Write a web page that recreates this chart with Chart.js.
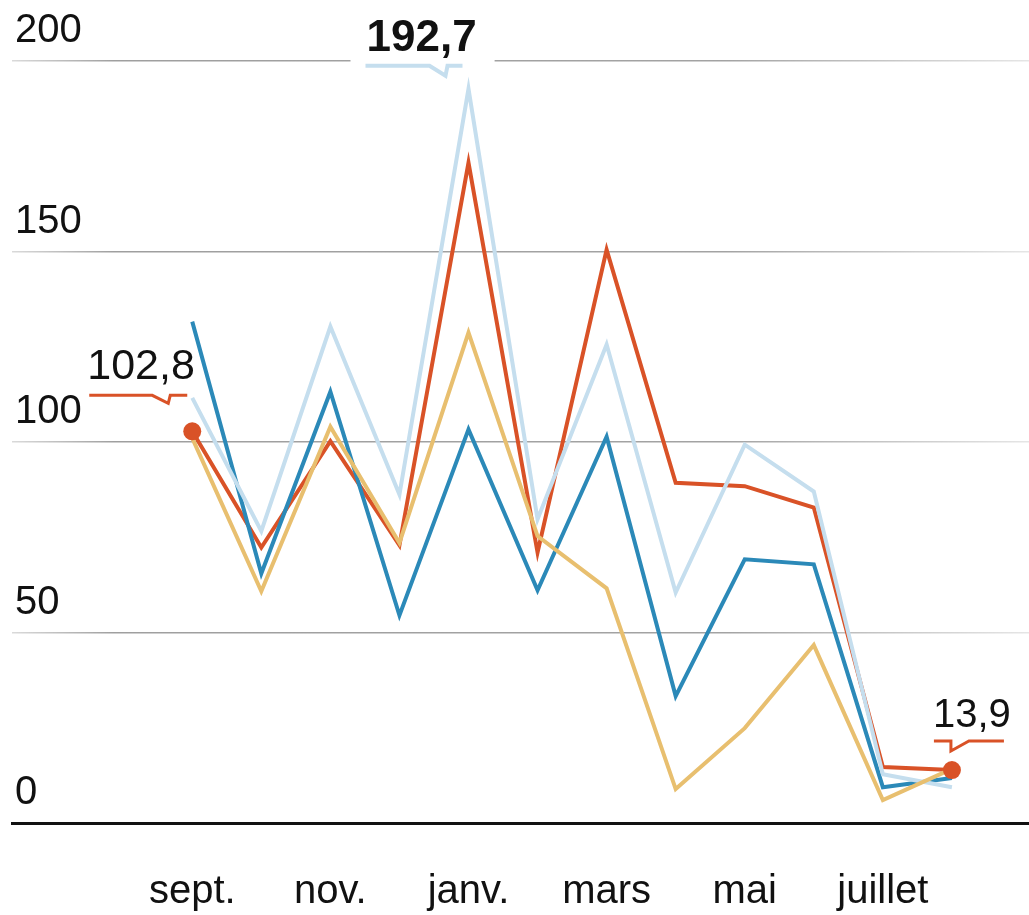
<!DOCTYPE html>
<html>
<head>
<meta charset="utf-8">
<script src="https://cdn.jsdelivr.net/npm/chart.js@4"></script>
<style>
  html, body { margin: 0; padding: 0; background: #fff; overflow: hidden; width: 1029px; height: 915px; }
  #c { display: block; margin-left: -3px; }
</style>
</head>
<body>
<canvas id="c" width="1043" height="915" style="width:1043px;height:915px"></canvas>
<script>
// ---- Data ----
const months = ['sept.', 'oct.', 'nov.', 'déc.', 'janv.', 'févr.', 'mars', 'avr.', 'mai', 'juin', 'juillet', 'août'];
const shownMonthIdx = [0, 2, 4, 6, 8, 10];
const yTicks = [0, 50, 100, 150, 200];

const seriesOrange    = [102.8, 72.3, 100.2, 72.9, 173.3, 71.0, 150.5, 89.3, 88.4, 82.8, 14.7, 13.9];
const seriesDarkBlue  = [131.6, 65.5, 113.2, 54.5, 103.3, 61.1, 101.4, 33.3, 69.2, 67.9, 9.4, 11.8];
const seriesLightBlue = [111.6, 76.6, 130.3, 86.2, 192.7, 79.7, 125.6, 60.5, 99.3, 87.0, 12.8, 9.4];
const seriesYellow    = [101.0, 60.8, 104.0, 73.5, 128.7, 75.3, 61.6, 8.9, 24.9, 46.7, 6.0, 14.2];

const COLORS = {
  orange: '#d95227',
  darkBlue: '#2b89b8',
  lightBlue: '#c5deee',
  yellow: '#e8bf6f'
};

const toXY = arr => arr.map((v, i) => ({ x: i, y: v }));
const fmt = v => v.toFixed(1).replace('.', ',');

// annotations: series, index, text offsets / callout geometry relative to point
const annotations = [
  { data: seriesOrange, idx: 0, color: COLORS.orange, bold: false, size: 43, knockout: false,
    textDx: -105, textDy: -52, lineDy: -36, lineX0: -103, lineX1: -5, tail: 'left', tailX: -24, tailDepth: 8 },
  { data: seriesLightBlue, idx: 4, color: COLORS.lightBlue, bold: true, size: 44, knockout: true,
    textDx: -102, textDy: -38, lineDy: -23, lineX0: -103, lineX1: -6, tail: 'left', tailX: -23, tailDepth: 10 },
  { data: seriesOrange, idx: 11, color: COLORS.orange, bold: false, size: 40, knockout: false,
    textDx: -19, textDy: -43, lineDy: -29, lineX0: -18, lineX1: 52, tail: 'right', tailX: -1, tailDepth: 10 }
];

const annotationPlugin = {
  id: 'callouts',
  afterDraw(chart) {
    const { ctx, scales: { x, y } } = chart;
    ctx.save();
    annotations.forEach(a => {
      const px = x.getPixelForValue(a.idx);
      const py = y.getPixelForValue(a.data[a.idx]);
      const text = fmt(a.data[a.idx]);
      ctx.font = (a.bold ? 'bold ' : '') + a.size + 'px "Liberation Sans", Arial, sans-serif';
      const tw = ctx.measureText(text).width;
      const tx = px + a.textDx;
      const ty = py + a.textDy;
      if (a.knockout) {
        ctx.fillStyle = '#fff';
        ctx.fillRect(tx - 16, ty - a.size * 0.8, tw + 34, a.size * 0.8 + 22);
      }
      ctx.fillStyle = '#111';
      ctx.textBaseline = 'alphabetic';
      ctx.textAlign = 'left';
      ctx.fillText(text, tx, ty);
      // callout line with tail
      const ly = py + a.lineDy;
      ctx.strokeStyle = a.color;
      ctx.lineWidth = a.bold ? 4 : 3;
      ctx.lineJoin = 'miter';
      ctx.beginPath();
      ctx.moveTo(px + a.lineX0, ly);
      if (a.tail === 'left') {
        ctx.lineTo(px + a.tailX - 16, ly);
        ctx.lineTo(px + a.tailX, ly + a.tailDepth);
        ctx.lineTo(px + a.tailX + 2, ly);
      } else {
        ctx.lineTo(px + a.tailX, ly);
        ctx.lineTo(px + a.tailX, ly + a.tailDepth);
        ctx.lineTo(px + a.tailX + 18, ly);
      }
      ctx.lineTo(px + a.lineX1, ly);
      ctx.stroke();
    });
    ctx.restore();
  }
};

let gridGradient = null;
function gridColor(context) {
  const chart = context.chart;
  const area = chart.chartArea;
  if (!area) return '#a0a0a0';
  if (!gridGradient) {
    gridGradient = chart.ctx.createLinearGradient(area.left, 0, area.right, 0);
    gridGradient.addColorStop(0, '#dadada');
    gridGradient.addColorStop(0.1, '#9f9f9f');
    gridGradient.addColorStop(0.7, '#a3a3a3');
    gridGradient.addColorStop(1, '#e6e6e6');
  }
  return gridGradient;
}

const lineDs = (data, color, order) => ({
  data: toXY(data),
  borderColor: color,
  backgroundColor: color,
  borderWidth: 4,
  pointRadius: 0,
  pointHoverRadius: 0,
  tension: 0,
  fill: false,
  order: order,
  clip: false
});

new Chart(document.getElementById('c'), {
  type: 'line',
  data: {
    datasets: [
      lineDs(seriesOrange, COLORS.orange, 4),
      lineDs(seriesDarkBlue, COLORS.darkBlue, 3),
      lineDs(seriesLightBlue, COLORS.lightBlue, 2),
      lineDs(seriesYellow, COLORS.yellow, 1),
      {
        type: 'scatter',
        data: [{ x: 0, y: seriesOrange[0] }, { x: seriesOrange.length - 1, y: seriesOrange[seriesOrange.length - 1] }],
        backgroundColor: COLORS.orange,
        borderWidth: 0,
        pointRadius: 9,
        pointHoverRadius: 9,
        order: 0,
        clip: false
      }
    ]
  },
  options: {
    responsive: false,
    animation: false,
    events: [],
    layout: { padding: { left: 9, right: 0, top: 61, bottom: 0 } },
    plugins: { legend: { display: false }, tooltip: { enabled: false }, title: { display: false } },
    scales: {
      x: {
        type: 'linear',
        min: -2.61,
        max: 12.145,
        afterBuildTicks: axis => { axis.ticks = shownMonthIdx.map(i => ({ value: i })); },
        grid: { display: false, drawTicks: false },
        border: { display: true, color: '#111', width: 3 },
        ticks: {
          autoSkip: false,
          maxRotation: 0,
          padding: 0,
          color: '#111',
          font: { family: '"Liberation Sans", Arial, sans-serif', size: 40, lineHeight: '46px' },
          callback: v => ['', months[v]]
        }
      },
      y: {
        min: 0,
        max: 200,
        afterBuildTicks: axis => { axis.ticks = yTicks.map(v => ({ value: v })); },
        grid: { color: gridColor, lineWidth: 1.5, drawTicks: false },
        border: { display: false },
        ticks: {
          mirror: true,
          padding: 3,
          labelOffset: -30,
          color: '#111',
          font: { family: '"Liberation Sans", Arial, sans-serif', size: 40 },
          callback: v => String(v)
        }
      }
    }
  },
  plugins: [annotationPlugin]
});
</script>
</body>
</html>
